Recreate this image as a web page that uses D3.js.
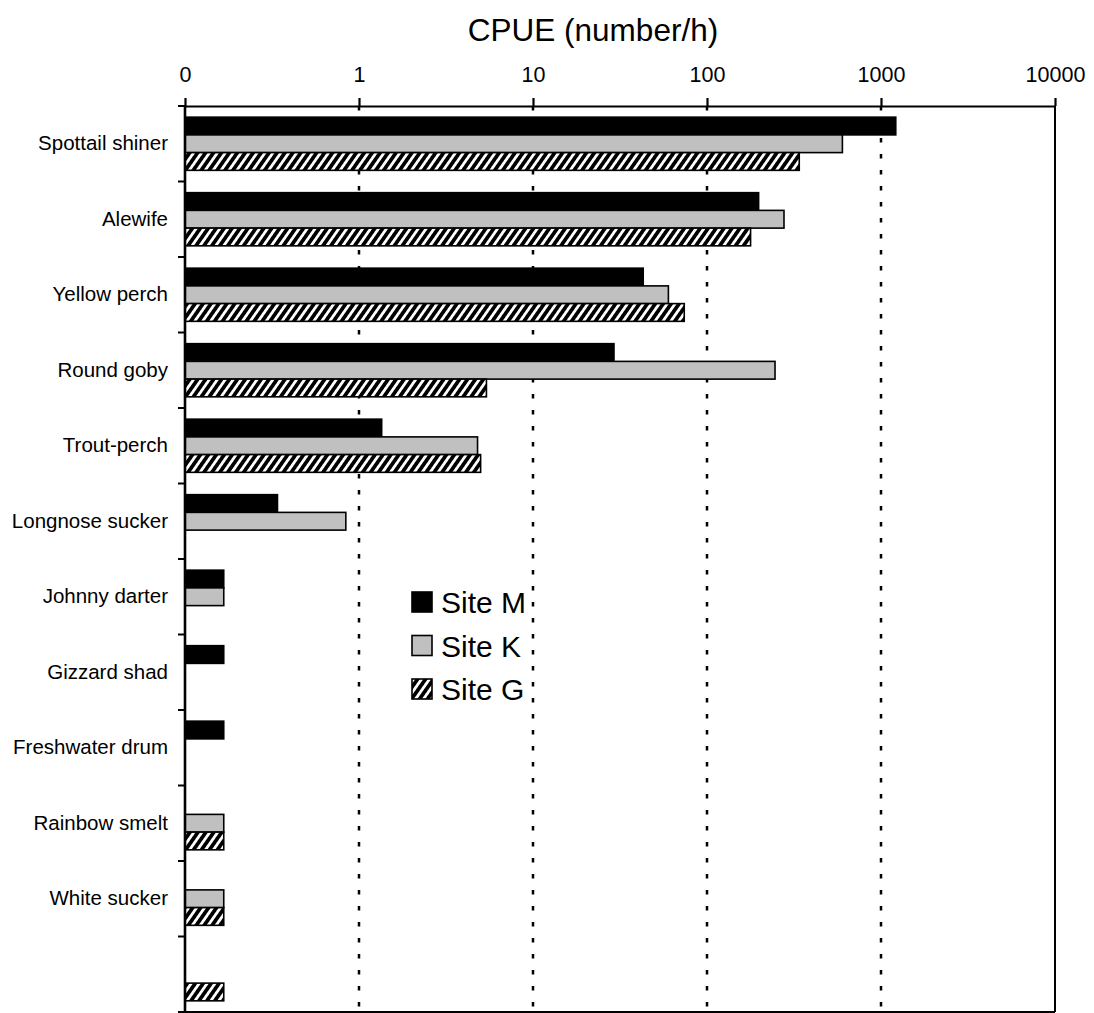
<!DOCTYPE html>
<html>
<head>
<meta charset="utf-8">
<script src="https://cdn.jsdelivr.net/npm/d3@7"></script>
<style>
  body { margin: 0; background: #fff; }
  text { font-family: "Liberation Sans", Arial, sans-serif; fill: #000; }
</style>
</head>
<body>
<div id="chart"></div>
<script>
// species, top to bottom (last row has no label in the original)
const species = ["Spottail shiner", "Alewife", "Yellow perch", "Round goby", "Trout-perch",
  "Longnose sucker", "Johnny darter", "Gizzard shad", "Freshwater drum",
  "Rainbow smelt", "White sucker", ""];
const sites = ["Site M", "Site K", "Site G"];

// CPUE (number/h), null = not caught
const siteM = [1216, 198, 43, 29.2, 1.35, 0.34, 0.167, 0.167, 0.167, null, null, null];
const siteK = [600, 277, 60, 246, 4.8, 0.84, 0.167, null, null, 0.167, 0.167, null];
const siteG = [339, 178, 74, 5.4, 5.0, null, null, null, null, 0.167, 0.167, 0.167];

const xTicks = [0.1, 1, 10, 100, 1000, 10000];

const W = 1094, H = 1013;
const margin = { top: 106, right: 39, bottom: 1, left: 185 };
const innerW = W - margin.left - margin.right;
const innerH = H - margin.top - margin.bottom;

const svg = d3.select("#chart").append("svg")
  .attr("width", W)
  .attr("height", H);

const defs = svg.append("defs");
const hatch = defs.append("pattern")
  .attr("id", "hatch")
  .attr("patternUnits", "userSpaceOnUse")
  .attr("width", 6.5)
  .attr("height", 6.5)
  .attr("patternTransform", "rotate(35)");
hatch.append("rect").attr("width", 6.5).attr("height", 6.5).attr("fill", "#000");
hatch.append("rect").attr("x", 0).attr("width", 2.8).attr("height", 6.5).attr("fill", "#fff");

const fills = { "Site M": "#000", "Site K": "#c0c0c0", "Site G": "url(#hatch)" };
const seriesValues = { "Site M": siteM, "Site K": siteK, "Site G": siteG };

const g = svg.append("g")
  .attr("transform", `translate(${margin.left},${margin.top})`);

const x = d3.scaleLog()
  .domain([0.1, 10000])
  .range([0, innerW]);

const y = d3.scaleBand()
  .domain(species)
  .range([0, innerH])
  .padding(0);

const ySite = d3.scaleBand()
  .domain(sites)
  .range([0, y.bandwidth()])
  .paddingInner(0)
  .paddingOuter(0.63);

// dashed gridlines
g.selectAll(".grid")
  .data(xTicks.slice(1, -1))
  .join("line")
  .attr("class", "grid")
  .attr("x1", (d) => x(d))
  .attr("x2", (d) => x(d))
  .attr("y1", 0)
  .attr("y2", innerH)
  .attr("stroke", "#000")
  .attr("stroke-width", 2.5)
  .attr("stroke-dasharray", "4.5,11.5");

// bars
const rows = [];
species.forEach((sp, i) => {
  sites.forEach((s) => {
    const v = seriesValues[s][i];
    if (v != null) rows.push({ species: sp, site: s, value: v });
  });
});

g.selectAll(".bar")
  .data(rows)
  .join("rect")
  .attr("class", "bar")
  .attr("x", x(0.1))
  .attr("y", (d) => y(d.species) + ySite(d.site))
  .attr("width", (d) => x(d.value) - x(0.1))
  .attr("height", ySite.bandwidth())
  .attr("fill", (d) => fills[d.site])
  .attr("stroke", "#000")
  .attr("stroke-width", 1.6);

// right and bottom frame
g.append("line")
  .attr("x1", innerW).attr("x2", innerW)
  .attr("y1", 0).attr("y2", innerH)
  .attr("stroke", "#000").attr("stroke-width", 2);
g.append("line")
  .attr("x1", 0).attr("x2", innerW)
  .attr("y1", innerH).attr("y2", innerH)
  .attr("stroke", "#000").attr("stroke-width", 2);

// top axis
const xAxis = g.append("g")
  .call(d3.axisTop(x)
    .tickValues(xTicks)
    .tickSize(8)
    .tickSizeOuter(0)
    .tickPadding(16)
    .tickFormat((d) => (d < 1 ? "0" : d3.format("d")(d))));
xAxis.select(".domain").attr("stroke-width", 2.2);
xAxis.selectAll(".tick line").attr("stroke-width", 2.2);
xAxis.selectAll(".tick text").attr("font-size", 21.5);

// left axis: labels centered in rows, ticks at row boundaries
const yAxis = g.append("g")
  .call(d3.axisLeft(y).tickSize(0).tickPadding(17));
yAxis.select(".domain").remove();
yAxis.selectAll(".tick text").attr("font-size", 20.5);

g.append("line")
  .attr("x1", 0).attr("x2", 0)
  .attr("y1", 0).attr("y2", innerH)
  .attr("stroke", "#000").attr("stroke-width", 2.6);

const bounds = species.map((s) => y(s)).concat([y.range()[1]]);
g.selectAll(".ytick")
  .data(bounds)
  .join("line")
  .attr("class", "ytick")
  .attr("x1", -7).attr("x2", 0)
  .attr("y1", (d) => d).attr("y2", (d) => d)
  .attr("stroke", "#000").attr("stroke-width", 2);

// title
svg.append("text")
  .attr("x", 593)
  .attr("y", 41)
  .attr("text-anchor", "middle")
  .attr("font-size", 31.5)
  .text("CPUE (number/h)");

// legend
const legend = svg.append("g")
  .attr("transform", "translate(412,592)");
const li = legend.selectAll(".legend-item")
  .data(sites)
  .join("g")
  .attr("class", "legend-item")
  .attr("transform", (d, i) => `translate(0,${i * 43.5})`);
li.append("rect")
  .attr("width", 20)
  .attr("height", 20)
  .attr("fill", (d) => fills[d])
  .attr("stroke", "#000")
  .attr("stroke-width", 1.6);
li.append("text")
  .attr("x", 29)
  .attr("y", 21)
  .attr("font-size", 30)
  .text((d) => d);
</script>
</body>
</html>
